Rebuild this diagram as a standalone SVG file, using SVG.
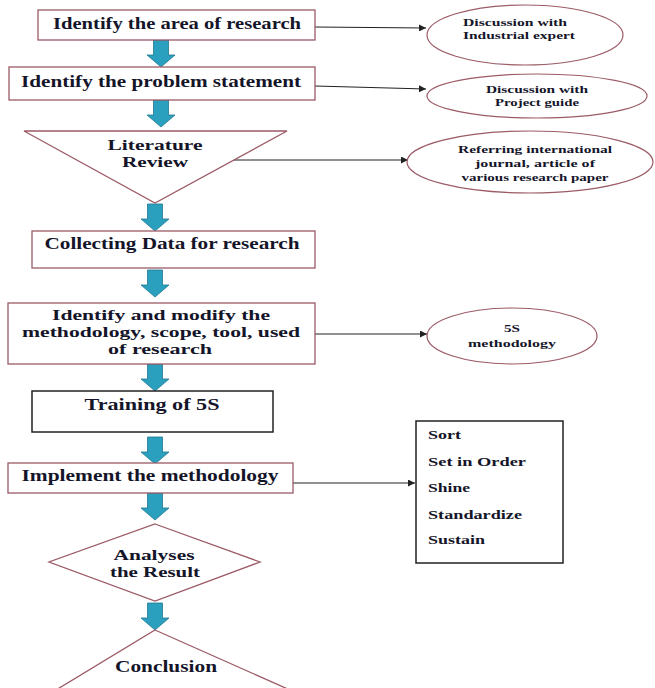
<svg xmlns="http://www.w3.org/2000/svg" xmlns:xlink="http://www.w3.org/1999/xlink" width="655" height="688" viewBox="0 0 655 688">
<style>
  .box { fill: #ffffff; stroke: #9b5a66; stroke-width: 1.3; }
  .boxk { fill: #ffffff; stroke: #222222; stroke-width: 1.5; }
  .ell { fill: #ffffff; stroke: #9b5a66; stroke-width: 1.2; }
  .t { font-family: "Liberation Serif", "Times New Roman", serif; font-weight: bold; fill: #15152a; text-anchor: middle; }
  .big { font-size: 16px; }
  .ml { font-size: 15px; }
  .sm { font-size: 11px; }
  .li { font-size: 13px; text-anchor: start; }
  .con { stroke: #222222; stroke-width: 1.1; fill: none; marker-end: url(#ah); }
  .barrow { fill: #2b9fbe; stroke: #1f7892; stroke-width: 0.8; }
</style>
<defs>
  <marker id="ah" viewBox="0 0 10 10" refX="10" refY="5" markerWidth="9" markerHeight="7" markerUnits="userSpaceOnUse" orient="auto">
    <path d="M0,0 L10,5 L0,10 Z" fill="#222222"/>
  </marker>
  <path id="barrow" class="barrow" d="M-7.5,0 H7.5 V15 H14 L0,27 L-14,15 H-7.5 Z"/>
</defs>
<rect width="655" height="688" fill="#ffffff"/>

<g id="flow-arrows">
  <use xlink:href="#barrow" href="#barrow" x="161" y="40"/>
  <use xlink:href="#barrow" href="#barrow" x="161" y="100"/>
  <use xlink:href="#barrow" href="#barrow" x="155" y="204"/>
  <use xlink:href="#barrow" href="#barrow" x="155" y="270"/>
  <use xlink:href="#barrow" href="#barrow" x="155" y="364"/>
  <use xlink:href="#barrow" href="#barrow" x="155" y="437"/>
  <use xlink:href="#barrow" href="#barrow" x="155" y="493"/>
  <use xlink:href="#barrow" href="#barrow" x="155" y="603"/>
</g>

<g id="connectors">
  <line class="con" x1="315" y1="27" x2="426" y2="28"/>
  <line class="con" x1="315" y1="86" x2="426" y2="89"/>
  <line class="con" x1="233" y1="160" x2="408" y2="160"/>
  <line class="con" x1="315" y1="334" x2="427" y2="334"/>
  <line class="con" x1="293" y1="483" x2="415" y2="483"/>
</g>

<g id="n-area">
  <rect class="box" x="38" y="10" width="277" height="30"/>
  <text class="t big" x="177" y="29" textLength="248" lengthAdjust="spacingAndGlyphs">Identify the area of research</text>
</g>
<g id="n-problem">
  <rect class="box" x="9" y="67" width="306" height="33"/>
  <text class="t big" x="161" y="87" textLength="280" lengthAdjust="spacingAndGlyphs">Identify the problem statement</text>
</g>
<g id="n-literature">
  <polygon class="box" points="24,131 287,131 155,203"/>
  <text class="t ml" x="155" y="150" textLength="95" lengthAdjust="spacingAndGlyphs">Literature</text>
  <text class="t ml" x="155" y="167" textLength="66" lengthAdjust="spacingAndGlyphs">Review</text>
</g>
<g id="n-collect">
  <rect class="box" x="32" y="231" width="283" height="37"/>
  <text class="t big" x="172" y="249" textLength="255" lengthAdjust="spacingAndGlyphs">Collecting Data for research</text>
</g>
<g id="n-method">
  <rect class="box" x="8" y="303" width="307" height="61"/>
  <text class="t ml" x="161" y="320" textLength="218" lengthAdjust="spacingAndGlyphs">Identify and modify the</text>
  <text class="t ml" x="161" y="337" textLength="278" lengthAdjust="spacingAndGlyphs">methodology, scope, tool, used</text>
  <text class="t ml" x="160" y="354" textLength="104" lengthAdjust="spacingAndGlyphs">of research</text>
</g>
<g id="n-training">
  <rect class="boxk" x="32" y="391" width="241" height="41"/>
  <text class="t big" x="152" y="410" textLength="135" lengthAdjust="spacingAndGlyphs">Training of 5S</text>
</g>
<g id="n-implement">
  <rect class="box" x="8" y="463" width="285" height="30"/>
  <text class="t big" x="150" y="481" textLength="257" lengthAdjust="spacingAndGlyphs">Implement the methodology</text>
</g>
<g id="n-analyse">
  <polygon class="box" points="155,524 260,562 155,601 49,562"/>
  <text class="t ml" x="154" y="560" textLength="81" lengthAdjust="spacingAndGlyphs">Analyses</text>
  <text class="t ml" x="155" y="577" textLength="90" lengthAdjust="spacingAndGlyphs">the Result</text>
</g>
<g id="n-conclusion">
  <polygon class="box" points="155,630 290,690 56,690"/>
  <text class="t big" x="166" y="672" textLength="102" lengthAdjust="spacingAndGlyphs">Conclusion</text>
</g>

<g id="n-expert">
  <ellipse class="ell" cx="525" cy="35" rx="98" ry="30"/>
  <text class="t sm" x="463" y="26" style="text-anchor:start" textLength="104" lengthAdjust="spacingAndGlyphs">Discussion with</text>
  <text class="t sm" x="463" y="39" style="text-anchor:start" textLength="112" lengthAdjust="spacingAndGlyphs">Industrial expert</text>
</g>
<g id="n-guide">
  <ellipse class="ell" cx="537" cy="96" rx="110" ry="22"/>
  <text class="t sm" x="537" y="93" textLength="102" lengthAdjust="spacingAndGlyphs">Discussion with</text>
  <text class="t sm" x="537" y="106" textLength="84" lengthAdjust="spacingAndGlyphs">Project guide</text>
</g>
<g id="n-journal">
  <ellipse class="ell" cx="530" cy="162" rx="123" ry="31"/>
  <text class="t sm" x="535" y="153" textLength="154" lengthAdjust="spacingAndGlyphs">Referring international</text>
  <text class="t sm" x="535" y="167" textLength="120" lengthAdjust="spacingAndGlyphs">journal, article of</text>
  <text class="t sm" x="535" y="181" textLength="147" lengthAdjust="spacingAndGlyphs">various research paper</text>
</g>
<g id="n-5s">
  <ellipse class="ell" cx="512" cy="336" rx="85" ry="28"/>
  <text class="t sm" x="512" y="332" textLength="16" lengthAdjust="spacingAndGlyphs">5S</text>
  <text class="t sm" x="512" y="347" textLength="88" lengthAdjust="spacingAndGlyphs">methodology</text>
</g>
<g id="n-list">
  <rect class="boxk" x="416" y="421" width="147" height="142"/>
  <text class="t li" x="428" y="439" textLength="33" lengthAdjust="spacingAndGlyphs">Sort</text>
  <text class="t li" x="428" y="466" textLength="98" lengthAdjust="spacingAndGlyphs">Set in Order</text>
  <text class="t li" x="428" y="492" textLength="42" lengthAdjust="spacingAndGlyphs">Shine</text>
  <text class="t li" x="428" y="519" textLength="94" lengthAdjust="spacingAndGlyphs">Standardize</text>
  <text class="t li" x="428" y="544" textLength="57" lengthAdjust="spacingAndGlyphs">Sustain</text>
</g>
</svg>
